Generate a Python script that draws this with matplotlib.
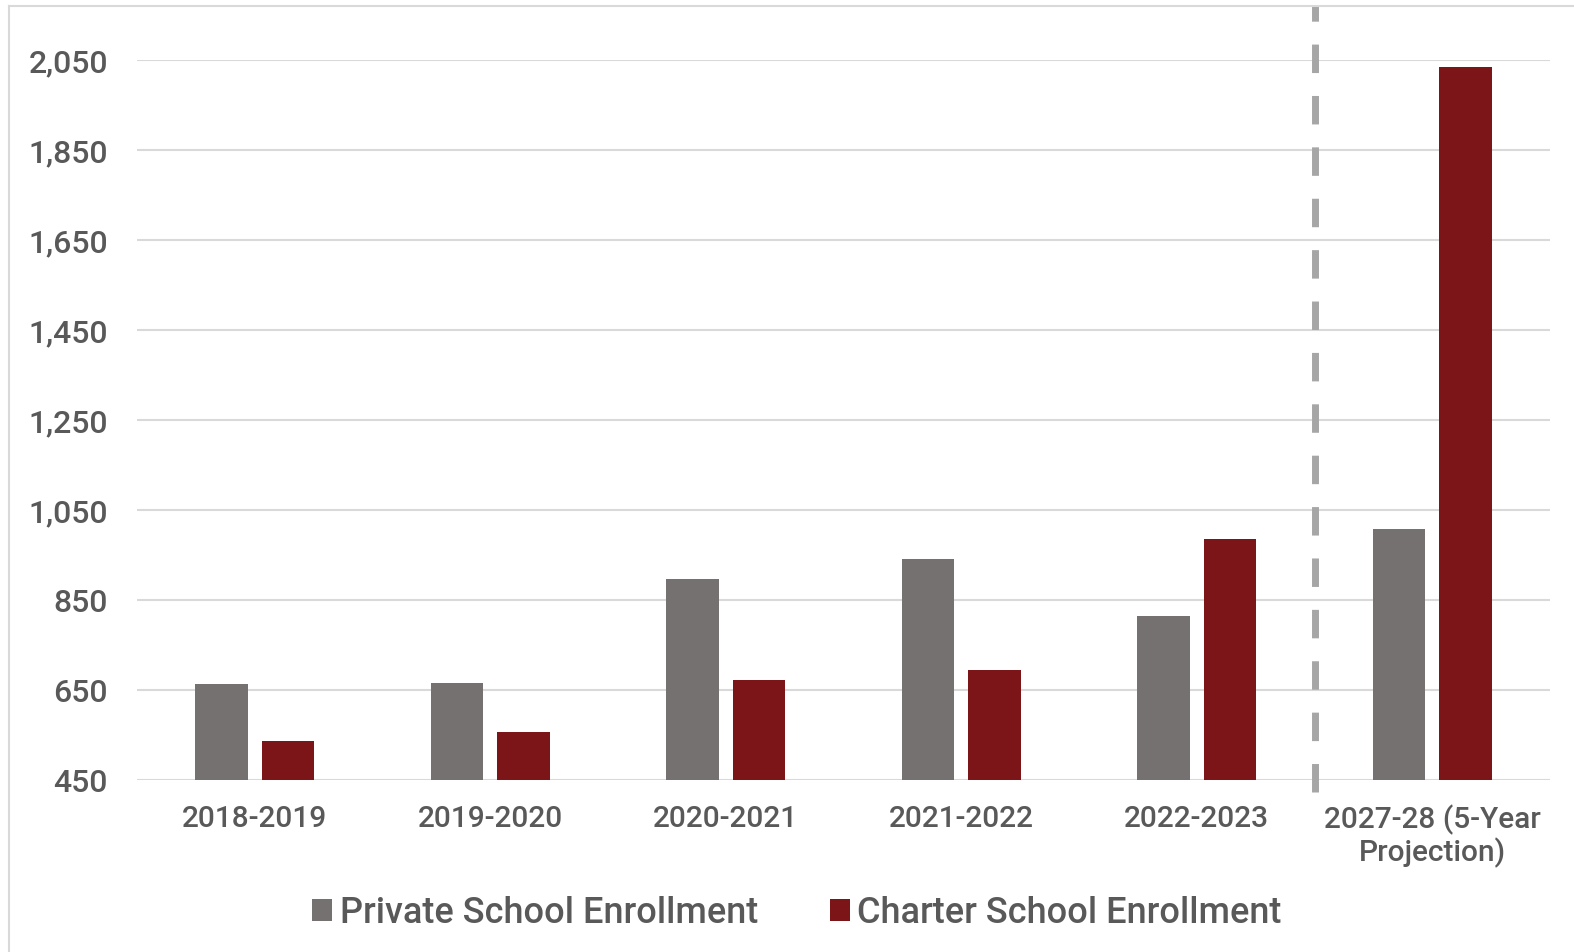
import matplotlib.pyplot as plt
import numpy as np
from matplotlib.lines import Line2D
from matplotlib.ticker import FuncFormatter

# data
years = ["2018-2019", "2019-2020", "2020-2021", "2021-2022", "2022-2023",
         "2027-28 (5-Year\nProjection)"]
private = [663, 666, 896, 941, 815, 1008]
charter = [536, 557, 672, 694, 985, 2035]
yticks = [450, 650, 850, 1050, 1250, 1450, 1650, 1850, 2050]

grey = "#767171"
red = "#7B1518"
txt = "#595959"

plt.rcParams['font.family'] = ['Roboto', 'DejaVu Sans']
plt.rcParams['font.weight'] = 'medium'

fig = plt.figure(figsize=(15.74, 9.53), dpi=100)
ax = fig.add_axes([137 / 1574, 1 - 781 / 953, (1550 - 137) / 1574, 720 / 953])

x = np.arange(len(years))
w = 0.223
off = 0.1415
ax.bar(x - off, private, w, color=grey, label="Private School Enrollment", zorder=3)
ax.bar(x + off, charter, w, color=red, label="Charter School Enrollment", zorder=3)

ax.set_xlim(-0.5, len(years) - 0.5)
ax.set_ylim(450, 2050)
ax.set_yticks(yticks)
ax.yaxis.set_major_formatter(FuncFormatter(lambda v, p: f"{int(v):,}"))
ax.set_xticks(x)
ax.set_xticklabels(years, linespacing=1.1)

for s in ax.spines.values():
    s.set_visible(False)
ax.grid(axis='y', color="#D9D9D9", linewidth=1.5, zorder=0)
ax.tick_params(axis='y', length=0, pad=21, labelsize=23, labelcolor=txt)
ax.tick_params(axis='x', length=0, pad=17, labelsize=21.5, labelcolor=txt)

# projection divider
ax.axvline(4.5, ymin=-0.017, ymax=1.075, color="#A6A6A6", linewidth=5,
           linestyle=(0, (4.1, 3.3)), clip_on=False, zorder=4,
           solid_capstyle='butt', dash_capstyle='butt')

leg = fig.legend(loc='center', bbox_to_anchor=(797 / 1574, 1 - 914 / 953), ncol=2,
                 frameon=False, fontsize=26, handlelength=0.55, handleheight=0.55,
                 handletextpad=0.2, columnspacing=2.0)
for t in leg.get_texts():
    t.set_color(txt)

# outer chart frame (top and left)
fig.add_artist(Line2D([9 / 1574, 1.0], [1 - 7 / 953, 1 - 7 / 953], color="#D9D9D9", linewidth=1.5))
fig.add_artist(Line2D([9 / 1574, 9 / 1574], [0.0, 1 - 7 / 953], color="#D9D9D9", linewidth=1.5))

fig.savefig("out.png", dpi=100)
